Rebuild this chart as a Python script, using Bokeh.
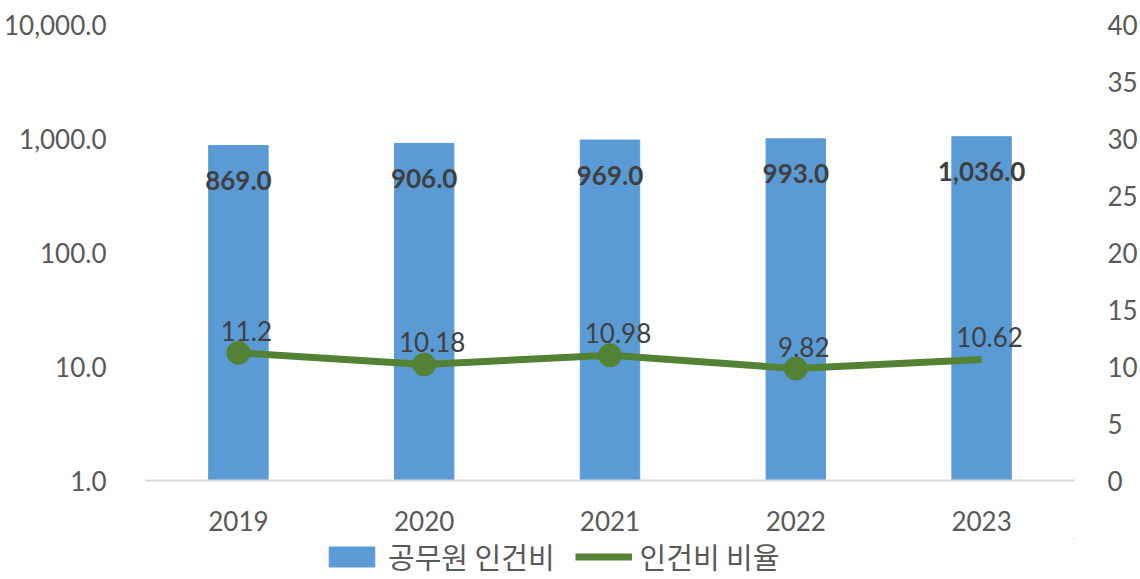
from bokeh.plotting import figure
from bokeh.layouts import column
from bokeh.models import (Range1d, LinearAxis, FixedTicker, NumeralTickFormatter,
                          Legend, LegendItem, ColumnDataSource, FactorRange, LinearScale)
from bokeh.core.properties import value
from bokeh.embed import file_html
from bokeh.resources import INLINE

years = ["2019", "2020", "2021", "2022", "2023"]
cost = [869.0, 906.0, 969.0, 993.0, 1036.0]
ratio = [11.2, 10.18, 10.98, 9.82, 10.62]
cost_labels = ["869.0", "906.0", "969.0", "993.0", "1,036.0"]
ratio_labels = ["11.2", "10.18", "10.98", "9.82", "10.62"]
left_ticks = [1, 10, 100, 1000, 10000]
right_ticks = [0, 5, 10, 15, 20, 25, 30, 35, 40]
series_names = ["공무원 인건비", "인건비 비율"]

FONT = "Lato"
AXIS_COLOR = "#595959"
LABEL_COLOR = "#404040"
BAR_COLOR = "#5B9BD5"
LINE_COLOR = "#548235"

p = figure(width=1140, height=538, x_range=FactorRange(*years), y_axis_type="log",
           y_range=Range1d(1, 10000), output_backend="svg", toolbar_location=None,
           min_border_left=143, min_border_right=65, min_border_top=24, min_border_bottom=58)
p.outline_line_color = None
p.xgrid.grid_line_color = None
p.ygrid.grid_line_color = None
p.background_fill_color = "white"
p.border_fill_color = "white"

p.extra_y_ranges = {"right": Range1d(0, 40)}
p.extra_y_scales = {"right": LinearScale()}

src = ColumnDataSource(dict(years=years, cost=cost, ratio=ratio,
                            cost_labels=cost_labels, ratio_labels=ratio_labels))

p.vbar(x="years", top="cost", bottom=1, width=0.32, color=BAR_COLOR, source=src)
p.line(x="years", y="ratio", y_range_name="right", line_color=LINE_COLOR,
       line_width=7, source=src)
msrc = ColumnDataSource(dict(years=years[:4], ratio=ratio[:4]))
p.scatter(x="years", y="ratio", y_range_name="right", size=23, color=LINE_COLOR, source=msrc)

p.text(x="years", y="cost", text="cost_labels", source=src, text_align="center",
       text_baseline="middle", y_offset=35, text_font=value(FONT), text_font_style="bold",
       text_font_size="26px", text_color=LABEL_COLOR)
p.text(x="years", y="ratio", text="ratio_labels", source=src, y_range_name="right",
       text_align="center", text_baseline="middle", x_offset=8, y_offset=-22,
       text_font=value(FONT), text_font_size="26px", text_color=LABEL_COLOR)

# left axis
ya = p.yaxis[0]
ya.ticker = FixedTicker(ticks=left_ticks)
ya.formatter = NumeralTickFormatter(format="0,0.0")
ya.axis_line_color = None
ya.major_tick_line_color = None
ya.minor_tick_line_color = None
ya.major_label_standoff = 33
ya.major_label_text_font = FONT
ya.major_label_text_font_size = "26px"
ya.major_label_text_color = AXIS_COLOR

# right axis
ra = LinearAxis(y_range_name="right", ticker=FixedTicker(ticks=right_ticks))
ra.axis_line_color = None
ra.major_tick_line_color = None
ra.minor_tick_line_color = None
ra.major_label_standoff = 27
ra.major_label_text_font = FONT
ra.major_label_text_font_size = "26px"
ra.major_label_text_color = AXIS_COLOR
p.add_layout(ra, "right")

# x axis
xa = p.xaxis[0]
xa.axis_line_color = "#D9D9D9"
xa.axis_line_width = 2
xa.major_tick_line_color = None
xa.minor_tick_line_color = None
xa.major_label_standoff = 24
xa.major_label_text_font = FONT
xa.major_label_text_font_size = "26px"
xa.major_label_text_color = AXIS_COLOR

# legend strip (dummy renderers lie outside the visible range)
lg = figure(width=1140, height=41, x_range=Range1d(0, 1), y_range=Range1d(0, 1),
            output_backend="svg", toolbar_location=None, min_border=0,
            x_axis_location=None, y_axis_location=None)
lg.outline_line_color = None
lg.xgrid.grid_line_color = None
lg.ygrid.grid_line_color = None
dummy = ColumnDataSource(dict(x=[5, 6], y=[5, 6]))
rb = lg.vbar(x="x", top="y", bottom=4, width=0.1, color=BAR_COLOR, source=dummy)
rl = lg.line(x="x", y="y", line_color=LINE_COLOR, line_width=7, source=dummy)
legend = Legend(items=[LegendItem(label=series_names[0], renderers=[rb]),
                       LegendItem(label=series_names[1], renderers=[rl])],
                orientation="horizontal", location=(178, 2),
                glyph_width=57, glyph_height=25, label_standoff=8, spacing=20,
                padding=0, margin=0, border_line_color=None, background_fill_alpha=0,
                label_text_font="Noto Sans CJK KR", label_text_font_size="29px",
                label_text_color=AXIS_COLOR)
lg.add_layout(legend, "center")

layout = column(p, lg, spacing=0)
open("out.html", "w").write(file_html(layout, INLINE))
